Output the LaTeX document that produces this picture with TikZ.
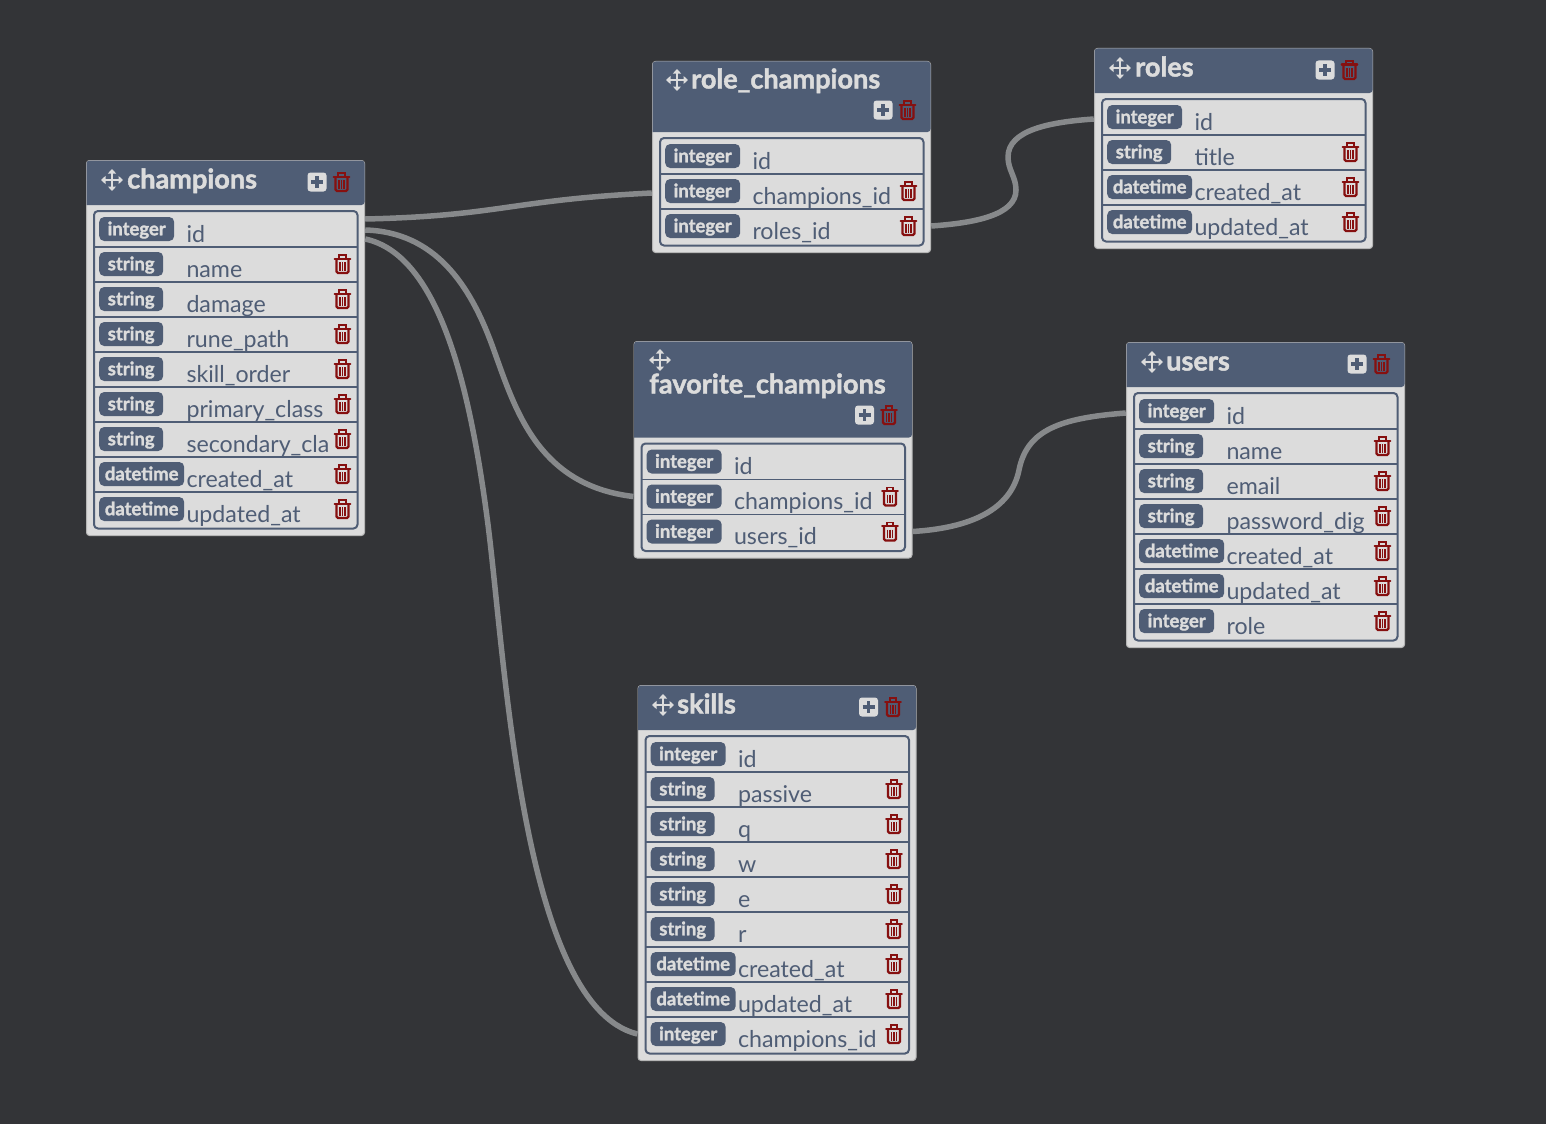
\documentclass[tikz,border=0pt]{standalone}
\usepackage{fontspec}
\setmainfont{Lato}[BoldFeatures={FakeBold=1.6}]
\usetikzlibrary{arrows.meta,calc}
\definecolor{bgc}{HTML}{333437}
\definecolor{slate}{HTML}{4F5D75}
\definecolor{cardc}{HTML}{DCDCDC}
\definecolor{edgec}{HTML}{B5B5B5}
\definecolor{linkc}{HTML}{87898B}
\definecolor{redc}{HTML}{861010}
\tikzset{
  x=1pt,y=-1pt,
  link/.style={draw=linkc,line width=5.5pt},
  cardbox/.style={fill=cardc,draw=edgec,line width=1pt,rounded corners=3pt},
  badge/.style={fill=slate,text=cardc,rounded corners=5pt,inner sep=0pt,minimum height=24pt,text height=14.5pt,text depth=2pt,font=\fontsize{18.5}{18.5}\bfseries\selectfont},
  fieldname/.style={text=slate,inner sep=0pt,anchor=base west,font=\fontsize{23.2}{24}\selectfont},
  titletext/.style={text=cardc,inner sep=0pt,anchor=base west,font=\fontsize{27.1}{28}\bfseries\selectfont},
  rowcell/.style={inner sep=0pt,minimum height=35pt,minimum width=279pt},
  trash/.pic={
    \draw[redc,line width=2pt,line cap=round] (-7.8,-5.5) -- (7.8,-5.5);
    \draw[redc,line width=1.8pt] (-3.2,-5.5) -- (-3.2,-9) -- (3.2,-9) -- (3.2,-5.5);
    \draw[redc,line width=2.3pt,rounded corners=1.5pt] (-6,-5.5) -- (-6,9) -- (6,9) -- (6,-5.5);
    \draw[redc,line width=1.7pt] (-2.5,-2) -- (-2.5,6.5) (0,-2) -- (0,6.5) (2.5,-2) -- (2.5,6.5);
  },
  plusicon/.pic={
    \fill[cardc,rounded corners=3pt] (-9.5,-9.5) rectangle (9.5,9.5);
    \draw[slate,line width=3.2pt] (-6,0) -- (6,0) (0,-6) -- (0,6);
  },
  moveicon/.pic={
    \draw[cardc,line width=2.3pt,{Triangle[width=8pt,length=4.5pt]}-{Triangle[width=8pt,length=4.5pt]}] (-11,0) -- (11,0);
    \draw[cardc,line width=2.3pt,{Triangle[width=8pt,length=4.5pt]}-{Triangle[width=8pt,length=4.5pt]}] (0,-11) -- (0,11);
  }
}
\def\badgewidth#1{\csname bw#1\endcsname}
\def\bwinteger{75pt}
\def\bwstring{64pt}
\def\bwdatetime{85pt}
% #1 id, #2 left, #3 top, #4 header bottom, #5 rows count,
% #6 move x, #7 move y, #8 title x, #9 title baseline
\newcommand{\dbframe}[9]{%
  \pgfmathsetmacro{\cardL}{#2+.5}
  \pgfmathsetmacro{\cardT}{#3+.5}
  \pgfmathsetmacro{\cardR}{#2+278.5}
  \pgfmathsetmacro{\cardB}{#4+35*#5+15.5}
  \pgfmathsetmacro{\listL}{#2+8}
  \pgfmathsetmacro{\listR}{#2+271.5}
  \pgfmathsetmacro{\listT}{#4+6}
  \pgfmathsetmacro{\listB}{#4+35*#5+8.5}
  \path[cardbox] (\cardL,\cardT) rectangle (\cardR,\cardB);
  \fill[slate,rounded corners=3pt] (\cardL,\cardT) -- (\cardR,\cardT) -- (\cardR,#4) [sharp corners] -- (\cardL,#4) [rounded corners=3pt] -- cycle;
  \draw[slate,line width=2pt,rounded corners=4pt] (\listL,\listT) rectangle (\listR,\listB);
  \pic at (#6,#7) {moveicon};
  \def\dbT{#9}\def\dbX{#8}\def\dbL{#2}\def\dbH{#4}\def\dbId{#1}\def\dbN{#5}%
}
% #1 title, #2 plus y, #3 rows
\newcommand{\dbfill}[3]{%
  \node[titletext] (\dbId-title) at (\dbX,\dbT) {#1};
  \pgfmathsetmacro{\pX}{\dbL+231}
  \pgfmathsetmacro{\tX}{\dbL+255.5}
  \pic at (\pX,#2) {plusicon};
  \pic at (\tX,#2) {trash};
  \foreach \ty/\nm [count=\i] in {#3}{
    \pgfmathsetmacro{\cy}{\dbH+24+35*(\i-1)}
    \pgfmathsetmacro{\cx}{\dbL+139.5}
    \pgfmathsetmacro{\bl}{\dbL+13}
    \pgfmathsetmacro{\nx}{\dbL+100.3}
    \pgfmathsetmacro{\by}{\cy+13}
    \pgfmathsetmacro{\ly}{\cy+18.2}
    \pgfmathsetmacro{\lA}{\dbL+8.5}
    \pgfmathsetmacro{\lB}{\dbL+271}
    \pgfmathsetmacro{\tx}{\dbL+256.5}
    \node[rowcell] (\dbId-\i) at (\cx,\cy) {};
    \ifnum\i<\dbN
      \draw[slate,line width=1.5pt] (\lA,\ly) -- (\lB,\ly);
    \fi
    \node[badge,anchor=west,minimum width=\badgewidth{\ty}] (\dbId-\i-type) at (\bl,\cy) {\ty};
    \node[fieldname] (\dbId-\i-name) at (\nx,\by) {\nm};
    \ifnum\i>1
      \pic at (\tx,\cy) {trash};
    \fi
  }
}
\begin{document}
\begin{tikzpicture}
\path[use as bounding box,fill=bgc] (0,0) rectangle (1546,1124);

\dbframe{champions}{86}{160}{205}{9}{112}{180}{127}{188.5}
\dbfill{champions}{182}{integer/id,string/name,string/damage,string/rune\_path,string/skill\_order,string/primary\_class,string/secondary\_cla,datetime/created\_at,datetime/updated\_at}

\dbframe{rolechampions}{652}{61}{132}{3}{677}{80}{691}{88.5}
\dbfill{role\_champions}{110}{integer/id,integer/champions\_id,integer/roles\_id}

\dbframe{roles}{1094}{48}{93}{4}{1120}{68}{1135}{76.5}
\dbfill{roles}{70}{integer/id,string/title,datetime/created\_at,datetime/updated\_at}

\dbframe{favorites}{633.5}{341}{437.5}{3}{660}{360}{649}{393.5}
\dbfill{favorite\_champions}{415}{integer/id,integer/champions\_id,integer/users\_id}

\dbframe{users}{1126}{342}{387}{7}{1152}{362}{1166}{370.5}
\dbfill{users}{364}{integer/id,string/name,string/email,string/password\_dig,datetime/created\_at,datetime/updated\_at,integer/role}

\dbframe{skills}{637.5}{685}{730}{9}{663}{705}{677}{713.5}
\dbfill{skills}{707}{integer/id,string/passive,string/q,string/w,string/e,string/r,datetime/created\_at,datetime/updated\_at,integer/champions\_id}

% connectors
\draw[link] ([yshift=10pt]champions-1.east) .. controls (500,216) and (510,200) .. ([yshift=-2pt]rolechampions-2.west);
\draw[link] (rolechampions-3.east) .. controls (975,223) and (1016,215) .. (1016,190) .. controls (1016,177) and (1008,170) .. (1008,157) .. controls (1008,130) and (1050,122) .. ([yshift=-2pt]roles-1.west);
\draw[link] ([yshift=-1pt]champions-1.east) .. controls (435,232) and (470,285) .. (492,345) .. controls (514,405) and (535,485) .. (favorites-2.west);
\draw[link] ([yshift=-10pt]champions-1.east) .. controls (440,255) and (470,390) .. (487,517) .. controls (505,650) and (520,1005) .. (skills-9.west);
\draw[link] (favorites-3.east) .. controls (970,528) and (1011,510) .. (1019,470) .. controls (1027,430) and (1060,418) .. ([yshift=-2pt]users-1.west);
\end{tikzpicture}
\end{document}
